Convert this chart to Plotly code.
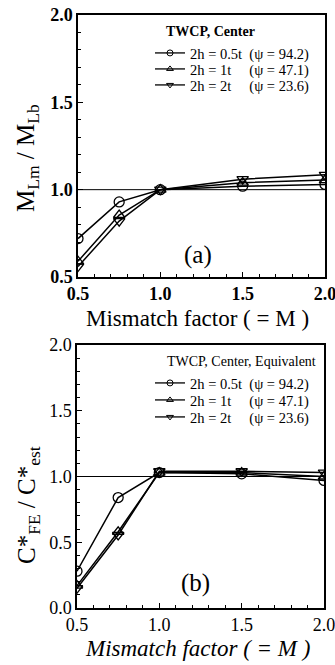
import plotly.graph_objects as go

# Mismatch factor M (x values shared by both panels)
mismatch = [0.5, 0.75, 1.0, 1.5, 2.0]

# Panel (a): M_Lm / M_Lb
mlm_05t = [0.72, 0.93, 1.0, 1.02, 1.03]
mlm_1t = [0.59, 0.855, 1.0, 1.04, 1.055]
mlm_2t = [0.56, 0.82, 1.0, 1.06, 1.085]

# Panel (b): C*_FE / C*_est
cfe_05t = [0.28, 0.84, 1.03, 1.02, 0.97]
cfe_1t = [0.17, 0.58, 1.03, 1.03, 1.00]
cfe_2t = [0.15, 0.555, 1.04, 1.04, 1.03]

series_names = ["2h = 0.5t\u00a0\u00a0(\u03c8 = 94.2)",
                "2h = 1t\u00a0\u00a0\u00a0\u00a0\u00a0(\u03c8 = 47.1)",
                "2h = 2t\u00a0\u00a0\u00a0\u00a0\u00a0(\u03c8 = 23.6)"]
symbols = ["circle-open", "triangle-up-open", "triangle-down-open"]
tick_vals_a = [0.5, 1.0, 1.5, 2.0]
tick_vals_b = [0.0, 0.5, 1.0, 1.5, 2.0]

W, H = 335, 665
SERIF = "Liberation Serif"


def px_x(v):
    return v / W


def px_y(v):
    return 1 - v / H


fig = go.Figure()

# each legend row gets its own legend box so the rows sit tightly
panels = [
    ("x", "y", ["legend", "legend2", "legend3"], [mlm_05t, mlm_1t, mlm_2t], [48, 64, 80]),
    ("x2", "y2", ["legend4", "legend5", "legend6"], [cfe_05t, cfe_1t, cfe_2t], [378, 395, 412]),
]

legend_layout = {}
legend_common = dict(xanchor="left", yanchor="top", bgcolor="rgba(0,0,0,0)",
                     borderwidth=0, itemwidth=30, tracegroupgap=0,
                     font=dict(family=SERIF, size=14.5, color="black"))

for xa, ya, legs, data, rows in panels:
    for name, sym, vals in zip(series_names, symbols, data):
        fig.add_trace(go.Scatter(
            x=mismatch, y=vals, xaxis=xa, yaxis=ya,
            mode="lines+markers", showlegend=False,
            line=dict(color="black", width=1.5),
            marker=dict(symbol=sym, size=10, color="black",
                        line=dict(color="black", width=1.3)),
        ))
    for name, sym, leg, row in zip(series_names, symbols, legs, rows):
        fig.add_trace(go.Scatter(
            x=[None], y=[None], xaxis=xa, yaxis=ya, legend=leg,
            mode="lines+markers", name=name, showlegend=True,
            line=dict(color="black", width=1.3),
            marker=dict(symbol=sym, size=6, color="black",
                        line=dict(color="black", width=1)),
        ))
        legend_layout[leg] = dict(x=px_x(150), y=px_y(row - 11), **legend_common)

# reference line at ratio = 1
for xr, yr in [("x", "y"), ("x2", "y2")]:
    fig.add_shape(type="line", xref=xr, yref=yr, x0=0.5, x1=2.0, y0=1.0, y1=1.0,
                  line=dict(color="black", width=1), layer="below")

tick_a = dict(family=SERIF, size=18, color="black", weight="bold")
tick_b = dict(family=SERIF, size=18, color="black")

axis_common = dict(
    showline=True, linecolor="black", linewidth=1.5, mirror=True,
    ticks="inside", ticklen=5, tickwidth=1.2, tickcolor="black",
    showgrid=False, zeroline=False, automargin=False, ticklabeloverflow="allow",
    minor=dict(ticks="inside", ticklen=3, tickwidth=1, tickcolor="black", dtick=0.1),
)


def fmt(vals):
    return ["%.1f" % v for v in vals]


fig.update_layout(
    width=W, height=H,
    margin=dict(l=0, r=0, t=0, b=0, autoexpand=False),
    paper_bgcolor="white", plot_bgcolor="white",
    xaxis=dict(domain=[px_x(78), px_x(325)], anchor="y", range=[0.5, 2.0],
               tickvals=tick_vals_a, ticktext=fmt(tick_vals_a),
               tickfont=tick_a, **axis_common),
    yaxis=dict(domain=[px_y(277), px_y(15)], anchor="x", range=[0.5, 2.0],
               tickvals=tick_vals_a, ticktext=fmt(tick_vals_a),
               tickfont=tick_a, **axis_common),
    xaxis2=dict(domain=[px_x(77), px_x(324)], anchor="y2", range=[0.5, 2.0],
                tickvals=tick_vals_a, ticktext=fmt(tick_vals_a),
                tickfont=tick_b, **axis_common),
    yaxis2=dict(domain=[px_y(608), px_y(345)], anchor="x2", range=[0.0, 2.0],
                tickvals=tick_vals_b, ticktext=fmt(tick_vals_b),
                tickfont=tick_b, **axis_common),
    **legend_layout,
)

annotations = [
    # legend headings
    dict(text="<b>TWCP, Center</b>", x=px_x(164), y=px_y(32), xanchor="left",
         font=dict(family=SERIF, size=14, color="black")),
    dict(text="TWCP, Center, Equivalent", x=px_x(165), y=px_y(361), xanchor="left",
         font=dict(family=SERIF, size=14, color="black")),
    # axis titles and panel tags
    dict(text="M<sub>Lm</sub> / M<sub>Lb</sub>", x=px_x(27), y=px_y(158), textangle=-90,
         font=dict(family=SERIF, size=25, color="black")),
    dict(text="Mismatch factor ( = M )", x=px_x(197), y=px_y(318),
         font=dict(family=SERIF, size=23, color="black")),
    dict(text="(a)", x=px_x(198), y=px_y(255),
         font=dict(family=SERIF, size=25, color="black")),
    dict(text="C*<sub>FE</sub> / C*<sub>est</sub>", x=px_x(28), y=px_y(505), textangle=-90,
         font=dict(family=SERIF, size=25, color="black")),
    dict(text="<i>Mismatch factor ( = M )</i>", x=px_x(197), y=px_y(648),
         font=dict(family=SERIF, size=23, color="black")),
    dict(text="(b)", x=px_x(195), y=px_y(583),
         font=dict(family=SERIF, size=25, color="black")),
]
for a in annotations:
    a.setdefault("xanchor", "center")
    a.update(xref="paper", yref="paper", showarrow=False, yanchor="middle")
fig.update_layout(annotations=annotations)

fig.write_html("out.html")
